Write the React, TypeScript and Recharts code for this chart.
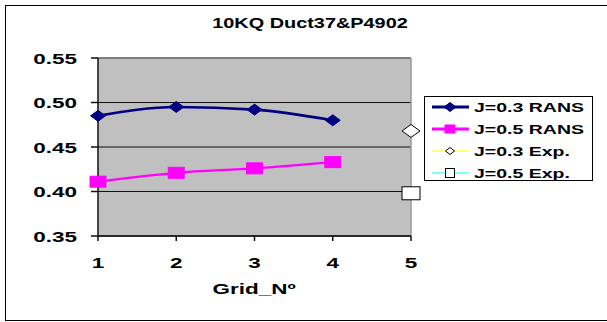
import React from "react";
import {
  LineChart,
  Line,
  XAxis,
  YAxis,
  CartesianGrid,
  ReferenceLine,
  Legend,
  Customized,
} from "recharts";

const gridNo = [1, 2, 3, 4, 5];
const j03Rans = [0.485, 0.495, 0.492, 0.48, null];
const j05Rans = [0.411, 0.421, 0.426, 0.433, null];
const j03Exp = [null, null, null, null, 0.468];
const j05Exp = [null, null, null, null, 0.398];
const yTicks = [0.35, 0.4, 0.45, 0.5, 0.55];
const seriesNames = ["J=0.3 RANS", "J=0.5 RANS", "J=0.3 Exp.", "J=0.5 Exp."];
const chartTitle = "10KQ Duct37&P4902";
const xTitle = "Grid_Nº";

const data = gridNo.map((g, i) => ({
  grid: g,
  j03Rans: j03Rans[i],
  j05Rans: j05Rans[i],
  j03Exp: j03Exp[i],
  j05Exp: j05Exp[i],
}));

const FONT = '"Liberation Sans", Arial, sans-serif';

// Excel-style text is wide; stretch glyphs horizontally around the anchor
function WideText({ x, y, size, anchor, sx, children }: any) {
  return (
    <g transform={`translate(${x},${y}) scale(${sx},1)`}>
      <text x={0} y={0} textAnchor={anchor} fontFamily={FONT} fontWeight="bold" fontSize={size} fill="#000">
        {children}
      </text>
    </g>
  );
}

function diamondPath(cx: number, cy: number, w: number, h: number) {
  return `M${cx - w / 2},${cy} L${cx},${cy - h / 2} L${cx + w / 2},${cy} L${cx},${cy + h / 2} Z`;
}

function makeDot(kind: "diamond" | "square", w: number, h: number, fill: string, stroke: string, sw: number) {
  // eslint-disable-next-line @typescript-eslint/no-explicit-any
  return (props: any) => {
    const { cx, cy, index } = props;
    if (cx == null || cy == null || props.value == null) return <g key={`e-${index}`} />;
    if (kind === "diamond") {
      return <path key={`d-${index}`} d={diamondPath(cx, cy, w, h)} fill={fill} stroke={stroke} strokeWidth={sw} />;
    }
    return <rect key={`s-${index}`} x={cx - w / 2} y={cy - h / 2} width={w} height={h} fill={fill} stroke={stroke} strokeWidth={sw} />;
  };
}

const legendStyle: Record<string, any> = {
  "J=0.3 RANS": { line: "#000080", lw: 3, kind: "diamond", w: 12, h: 9, fill: "#000080", stroke: "#000080" },
  "J=0.5 RANS": { line: "#FF00FF", lw: 3, kind: "square", w: 10, h: 8, fill: "#FF00FF", stroke: "#FF00FF" },
  "J=0.3 Exp.": { line: "#FFFF00", lw: 1, kind: "diamond", w: 9, h: 7, fill: "#FFFFFF", stroke: "#000" },
  "J=0.5 Exp.": { line: "#00FFFF", lw: 1, kind: "square", w: 9, h: 9, fill: "#FFFFFF", stroke: "#000" },
};

// eslint-disable-next-line @typescript-eslint/no-explicit-any
function BoxLegend({ payload }: any) {
  if (!payload) return null;
  // keep the series order, not the alphabetical order of the keys
  const items = [...payload].sort(
    // eslint-disable-next-line @typescript-eslint/no-explicit-any
    (a: any, b: any) => seriesNames.indexOf(a.value) - seriesNames.indexOf(b.value)
  );
  return (
    <div style={{ width: 167, height: 83, border: "1px solid #000", background: "#fff" }}>
      <svg width={167} height={83} style={{ display: "block" }}>
        {/* eslint-disable-next-line @typescript-eslint/no-explicit-any */}
        {items.map((entry: any, i: number) => {
          const s = legendStyle[entry.value];
          if (!s) return null;
          const cy = 10 + i * 22;
          return (
            <g key={entry.value}>
              <line x1={7} x2={44} y1={cy} y2={cy} stroke={s.line} strokeWidth={s.lw} />
              {s.kind === "diamond" ? (
                <path d={diamondPath(25, cy, s.w, s.h)} fill={s.fill} stroke={s.stroke} strokeWidth={1} />
              ) : (
                <rect x={25 - s.w / 2} y={cy - s.h / 2} width={s.w} height={s.h} fill={s.fill} stroke={s.stroke} strokeWidth={1} />
              )}
              <WideText x={49} y={cy + 4.7} size={13} anchor="start" sx={1.5}>
                {entry.value}
              </WideText>
            </g>
          );
        })}
      </svg>
    </div>
  );
}

// eslint-disable-next-line @typescript-eslint/no-explicit-any
function YTick({ x, y, payload }: any) {
  return (
    <WideText x={x} y={y + 5.5} size={15} anchor="end" sx={1.5}>
      {Number(payload.value).toFixed(2)}
    </WideText>
  );
}

// eslint-disable-next-line @typescript-eslint/no-explicit-any
function XTick({ x, y, payload }: any) {
  return (
    <WideText x={x} y={y + 5.5} size={15} anchor="middle" sx={1.5}>
      {payload.value}
    </WideText>
  );
}

function Titles() {
  return (
    <g>
      <WideText x={310} y={28} size={14} anchor="middle" sx={1.42}>
        {chartTitle}
      </WideText>
      <WideText x={254} y={293.5} size={15} anchor="middle" sx={1.5}>
        {xTitle}
      </WideText>
    </g>
  );
}

export default function App() {
  return (
    <div style={{ position: "absolute", left: 0, top: 0, width: 607, height: 322, background: "#fff", overflow: "hidden" }}>
      <div
        style={{
          position: "absolute",
          left: 5,
          top: 5,
          width: 620,
          height: 314,
          border: "1.5px solid #000",
        }}
      />
      <div style={{ position: "absolute", left: 0, top: 0 }}>
        <LineChart width={607} height={322} data={data} margin={{ top: 58, right: 196, left: 0, bottom: 0 }}>
          <CartesianGrid vertical={false} fill="#C0C0C0" stroke="#111" strokeWidth={1} />
          <ReferenceLine y={0.55} stroke="#808080" strokeWidth={1.5} />
          <ReferenceLine x={5} stroke="#9a9a9a" strokeWidth={1.5} />
          <XAxis
            dataKey="grid"
            type="number"
            domain={[1, 5]}
            ticks={gridNo}
            height={86}
            stroke="#111"
            strokeWidth={1.5}
            tickSize={5}
            tickMargin={21}
            tick={<XTick />}
            interval={0}
          />
          <YAxis
            domain={[0.35, 0.55]}
            ticks={yTicks}
            width={98}
            stroke="#111"
            strokeWidth={1.5}
            tickSize={7}
            tickMargin={14}
            tick={<YTick />}
            interval={0}
          />
          <Line
            dataKey="j03Rans"
            name="J=0.3 RANS"
            type="monotone"
            stroke="#000080"
            strokeWidth={2.6}
            dot={makeDot("diamond", 15, 11, "#000080", "#000080", 1)}
            isAnimationActive={false}
          />
          <Line
            dataKey="j05Rans"
            name="J=0.5 RANS"
            type="monotone"
            stroke="#FF00FF"
            strokeWidth={2.2}
            dot={makeDot("square", 16, 11, "#FF00FF", "#FF00FF", 1)}
            isAnimationActive={false}
          />
          <Line
            dataKey="j03Exp"
            name="J=0.3 Exp."
            stroke="#FFFF00"
            strokeWidth={1}
            dot={makeDot("diamond", 18, 13, "#FFFFFF", "#000", 1)}
            isAnimationActive={false}
          />
          <Line
            dataKey="j05Exp"
            name="J=0.5 Exp."
            stroke="#00FFFF"
            strokeWidth={1}
            dot={makeDot("square", 18, 13, "#FFFFFF", "#000", 1)}
            isAnimationActive={false}
          />
          <Legend
            layout="horizontal"
            align="center"
            verticalAlign="middle"
            content={<BoxLegend />}
            wrapperStyle={{ left: 424, top: 96, width: 169, height: 85 }}
          />
          <Customized component={Titles} />
        </LineChart>
      </div>
    </div>
  );
}
